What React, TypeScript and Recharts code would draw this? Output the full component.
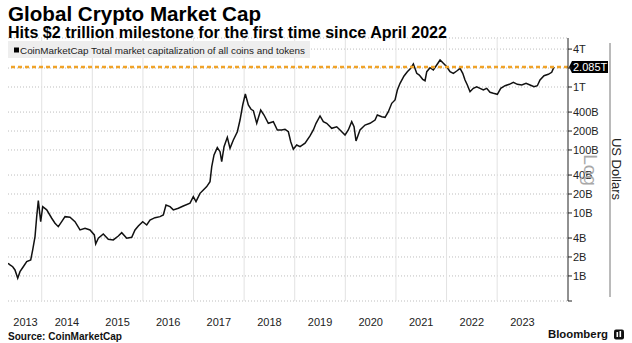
import React from 'react';
import { LineChart, Line, XAxis, YAxis, CartesianGrid, ReferenceLine } from 'recharts';

const DATES = [
  2013.334, 2013.374, 2013.427, 2013.472, 2013.526, 2013.571, 2013.636, 2013.704, 2013.783, 2013.822,
  2013.868, 2013.901, 2013.933, 2013.98, 2014.02, 2014.099, 2014.198, 2014.263, 2014.328, 2014.395,
  2014.461, 2014.559, 2014.658, 2014.757, 2014.856, 2014.955, 2015.04, 2015.067, 2015.119, 2015.217,
  2015.316, 2015.415, 2015.514, 2015.581, 2015.68, 2015.779, 2015.844, 2015.909, 2015.996, 2016.075,
  2016.14, 2016.239, 2016.338, 2016.403, 2016.456, 2016.536, 2016.601, 2016.7, 2016.798, 2016.931,
  2016.996, 2017.049, 2017.128, 2017.194, 2017.261, 2017.326, 2017.36, 2017.405, 2017.47, 2017.524,
  2017.557, 2017.603, 2017.668, 2017.721, 2017.787, 2017.866, 2017.919, 2017.972, 2018.024, 2018.083,
  2018.137, 2018.182, 2018.249, 2018.328, 2018.393, 2018.478, 2018.577, 2018.656, 2018.743, 2018.808,
  2018.874, 2018.921, 2018.972, 2019.039, 2019.105, 2019.204, 2019.302, 2019.368, 2019.421, 2019.5,
  2019.565, 2019.632, 2019.731, 2019.83, 2019.895, 2019.994, 2020.059, 2020.126, 2020.172, 2020.211,
  2020.29, 2020.389, 2020.488, 2020.587, 2020.632, 2020.719, 2020.785, 2020.85, 2020.917, 2020.982,
  2021.028, 2021.081, 2021.16, 2021.225, 2021.292, 2021.344, 2021.411, 2021.462, 2021.529, 2021.575,
  2021.609, 2021.674, 2021.739, 2021.806, 2021.872, 2021.937, 2022.004, 2022.069, 2022.135, 2022.201,
  2022.267, 2022.32, 2022.365, 2022.411, 2022.464, 2022.529, 2022.596, 2022.662, 2022.727, 2022.794,
  2022.859, 2022.925, 2023.004, 2023.071, 2023.156, 2023.241, 2023.32, 2023.399, 2023.486, 2023.571,
  2023.65, 2023.729, 2023.794, 2023.847, 2023.926, 2024.011, 2024.078, 2024.124,
];

// Total market cap, billions of US dollars
const CAP_BILLIONS = [
  1.59, 1.5, 1.4, 1.245, 0.92, 1.17, 1.4, 1.69, 1.79, 2.59,
  4.21, 8.74, 15.7, 7.28, 12.6, 11.2, 8.24, 6.86, 6.06, 7.28,
  8.74, 8.55, 7.28, 5.37, 5.72, 5.37, 4.48, 3.22, 3.97, 4.64,
  3.82, 3.73, 4.31, 4.87, 3.97, 4.11, 5.37, 6.22, 7.28, 6.45,
  7.74, 8.42, 8.74, 9.3, 13.4, 12.6, 11.2, 11.9, 12.9, 14.3,
  18.1, 15.1, 20.5, 23.2, 26.2, 31.4, 54.3, 83.3, 109, 94,
  65.2, 113, 159, 106, 144, 195, 299, 518, 774, 518,
  443, 421, 265, 431, 359, 265, 281, 208, 208, 213,
  195, 135, 103, 120, 113, 128, 167, 208, 265, 347,
  281, 265, 221, 234, 208, 173, 208, 281, 234, 139,
  208, 249, 265, 299, 359, 338, 330, 405, 551, 622,
  896, 1145, 1496, 1750, 1981, 2317, 1650, 1550, 1325, 1259,
  1750, 2025, 1862, 2234, 2683, 2378, 2100, 1750, 1650, 1795,
  1981, 1650, 1292, 1076, 842, 953, 1011, 953, 896, 953,
  824, 794, 766, 953, 1049, 1104, 1188, 1104, 1076, 1145,
  1076, 1011, 1049, 1292, 1512, 1590, 1711, 2085,
];

const YEAR_LABEL_POS = [2013.68, 2014.5, 2015.5, 2016.5, 2017.5, 2018.5, 2019.5, 2020.5, 2021.5, 2022.5, 2023.5];
const YEAR_BOUNDARIES = [2014, 2015, 2016, 2017, 2018, 2019, 2020, 2021, 2022, 2023];
const Y_TICKS = [0.4, 1, 2, 4, 10, 20, 40, 100, 200, 400, 1000, 2000, 4000];
const LATEST = 2085;
const LATEST_LABEL = '2.085T';

const data = DATES.map((t, i) => ({ t, v: CAP_BILLIONS[i] }));

const FONT = '"Liberation Sans", Arial, sans-serif';

const fmtY = (v: number) => {
  if (v < 1 || v === 2000) return '';
  if (v >= 1000) return `${v / 1000}T`;
  return `${v}B`;
};

const PriceTag = (props: any) => {
  const vb = props.viewBox || {};
  const x = (vb.x || 0) + (vb.width || 0);
  const y = vb.y || 0;
  return (
    <g>
      <path d={`M${x + 1},${y} L${x + 4},${y - 6} H${x + 40} V${y + 6} H${x + 4} Z`} fill="#000" />
      <text x={x + 5} y={y + 4} fill="#fff" fontSize={11} fontFamily={FONT}>
        {LATEST_LABEL}
      </text>
    </g>
  );
};

export default function App() {
  return (
    <div style={{ position: 'absolute', left: 0, top: 0, width: 632, height: 343, background: '#fff', fontFamily: FONT }}>
      <LineChart width={632} height={343} data={data} margin={{ top: 38, right: 0, bottom: 0, left: 8 }}>
        <CartesianGrid horizontal vertical={false} stroke="#bdbdbd" strokeDasharray="1 2" />
        {YEAR_BOUNDARIES.map((yr) => (
          <ReferenceLine key={yr} x={yr} stroke="#e2e2e2" strokeWidth={1} />
        ))}
        <XAxis
          dataKey="t"
          type="number"
          domain={[2013.334, 2024.4]}
          allowDataOverflow
          ticks={YEAR_LABEL_POS}
          tickFormatter={(v: number) => String(Math.floor(v))}
          axisLine={false}
          tickLine={false}
          tickMargin={11}
          height={42}
          interval={0}
          tick={{ fontSize: 11, fill: '#222', fontFamily: FONT }}
        />
        <YAxis
          orientation="right"
          scale="log"
          domain={[0.4, 6000]}
          allowDataOverflow
          ticks={Y_TICKS}
          tickFormatter={fmtY}
          interval={0}
          width={64}
          axisLine={{ stroke: '#222' }}
          tickLine={{ stroke: '#222' }}
          tickSize={4}
          tickMargin={1}
          tick={{ fontSize: 11, fill: '#222', fontFamily: FONT, textAnchor: 'start' }}
        />
        <Line dataKey="v" type="linear" stroke="#111" strokeWidth={1.5} dot={false} isAnimationActive={false} />
        <ReferenceLine y={LATEST} stroke="#f0a329" strokeWidth={2.5} strokeDasharray="4 3" label={<PriceTag />} />
      </LineChart>
      <svg width={632} height={343} style={{ position: 'absolute', left: 0, top: 0, pointerEvents: 'none' }}>
        <text x={8} y={20.5} fontSize={21} fontWeight={700} fill="#000" fontFamily={FONT} textLength={253} lengthAdjust="spacingAndGlyphs">
          Global Crypto Market Cap
        </text>
        <text x={8} y={37.5} fontSize={16} fontWeight={700} fill="#000" fontFamily={FONT} textLength={439} lengthAdjust="spacingAndGlyphs">
          Hits $2 trillion milestone for the first time since April 2022
        </text>
        <rect x={8} y={41} width={302} height={17} fill="#eeeeee" />
        <rect x={14} y={47.5} width={5} height={5} fill="#000" />
        <text x={20} y={53.5} fontSize={9.5} fill="#222" fontFamily={FONT} textLength={285} lengthAdjust="spacingAndGlyphs">
          CoinMarketCap Total market capitalization of all coins and tokens
        </text>
        <text x={584} y={170} transform="rotate(90, 584, 170)" textAnchor="middle" fontSize={19} fill="#a8a8a8" fontFamily={FONT}>
          Log
        </text>
        <line x1={610} y1={43} x2={610} y2={297} stroke="#777" strokeWidth={1} />
        <text x={611.5} y={169} transform="rotate(90, 611.5, 169)" textAnchor="middle" fontSize={13} fill="#222" fontFamily={FONT}>
          US Dollars
        </text>
        <text x={8} y={340} fontSize={10} fontWeight={700} fill="#111" fontFamily={FONT} textLength={114} lengthAdjust="spacingAndGlyphs">
          Source: CoinMarketCap
        </text>
        <text x={548} y={338.3} fontSize={11.5} fontWeight={700} fill="#111" fontFamily={FONT} textLength={60} lengthAdjust="spacingAndGlyphs">
          Bloomberg
        </text>
        <rect x={614} y={329.5} width={10} height={10} rx={2} fill="#111" />
        <rect x={616.5} y={332} width={1.6} height={5} fill="#fff" />
        <rect x={619.5} y={331} width={1.6} height={6} fill="#fff" />
      </svg>
    </div>
  );
}
